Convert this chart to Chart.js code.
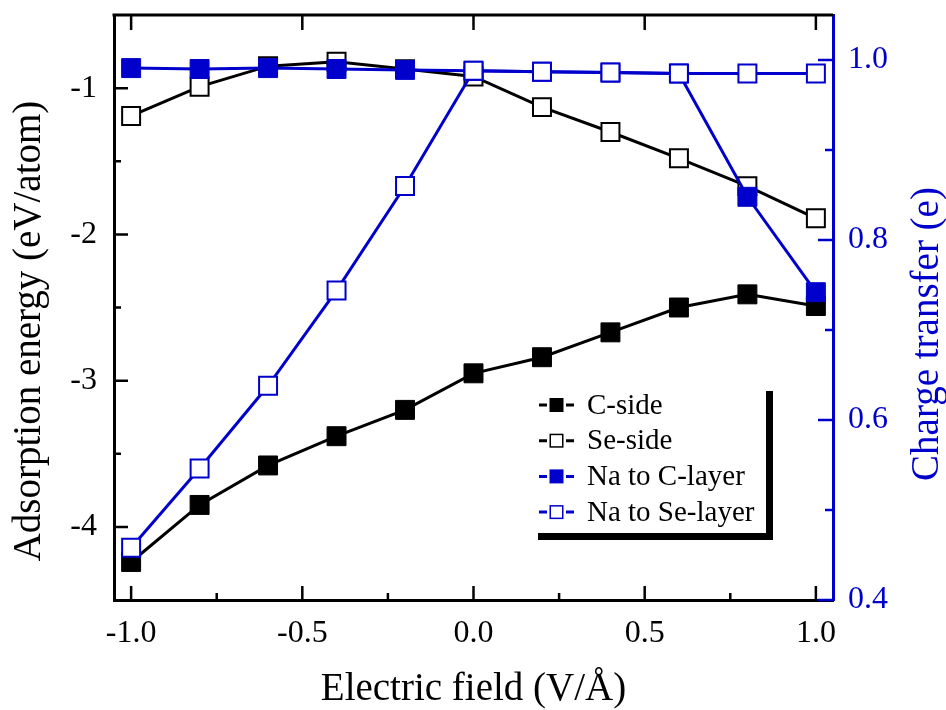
<!DOCTYPE html>
<html>
<head>
<meta charset="utf-8">
<script src="https://cdn.jsdelivr.net/npm/chart.js@4.4.0/dist/chart.umd.min.js"></script>
<style>
body { margin: 0; background: #fff; }
</style>
</head>
<body>
<canvas id="chart" width="946" height="710"></canvas>
<script>
const fieldValues = [-1.0, -0.8, -0.6, -0.4, -0.2, 0.0, 0.2, 0.4, 0.6, 0.8, 1.0];
const cSide  = [-4.24, -3.85, -3.58, -3.38, -3.20, -2.95, -2.84, -2.67, -2.50, -2.41, -2.49];
const seSide = [-1.19, -0.99, -0.85, -0.82, -0.87, -0.92, -1.13, -1.30, -1.48, -1.67, -1.89];
const naToC  = [0.991, 0.990, 0.991, 0.990, 0.989, 0.988, 0.987, 0.986, 0.985, 0.848, 0.742];
const naToSe = [0.458, 0.546, 0.638, 0.744, 0.860, 0.988, 0.987, 0.986, 0.985, 0.985, 0.985];

const fieldTicks  = [-1.0, -0.5, 0.0, 0.5, 1.0];
const fieldMinor  = [-0.75, -0.25, 0.25, 0.75];
const energyTicks = [-4, -3, -2, -1];
const energyMinor = [-3.5, -2.5, -1.5];
const chargeTicks = [0.4, 0.6, 0.8, 1.0];
const chargeMinor = [0.5, 0.7, 0.9];

const BLUE = '#0000CC';
const serif = '"Liberation Serif", "Times New Roman", serif';

function pairs(values) {
    return fieldValues.map((x, i) => ({ x: x, y: values[i] }));
}

function series(label, values, axis, color, filled, order) {
    return {
        label: label,
        data: pairs(values),
        yAxisID: axis,
        borderColor: color,
        borderWidth: 3,
        pointStyle: 'rect',
        pointRadius: filled ? 13.4 : 12.7,
        pointBorderWidth: filled ? 1 : 2,
        pointBorderColor: color,
        pointBackgroundColor: filled ? color : '#fff',
        pointHoverRadius: filled ? 13.4 : 12.7,
        filled: filled,
        order: order
    };
}

// tick marks pointing into the plot, top frame, y titles and the legend box
const framePlugin = {
    id: 'frame',
    afterDraw(chart) {
        const ctx = chart.ctx;
        const area = chart.chartArea;
        const x = chart.scales.x, e = chart.scales.energy, c = chart.scales.charge;
        ctx.save();
        ctx.lineWidth = 3;
        ctx.strokeStyle = '#000';
        ctx.beginPath();
        ctx.moveTo(area.left - 1.5, area.top);
        ctx.lineTo(area.right, area.top);
        ctx.stroke();

        ctx.lineWidth = 2.5;
        const mark = (x1, y1, x2, y2) => { ctx.moveTo(x1, y1); ctx.lineTo(x2, y2); };
        ctx.beginPath();
        fieldTicks.forEach(v => {
            const px = x.getPixelForValue(v);
            mark(px, area.bottom, px, area.bottom - 14);
            mark(px, area.top, px, area.top + 15);
        });
        fieldMinor.forEach(v => {
            const px = x.getPixelForValue(v);
            mark(px, area.bottom, px, area.bottom - 7);
        });
        energyTicks.forEach(v => {
            const py = e.getPixelForValue(v);
            mark(area.left, py, area.left + 14, py);
        });
        energyMinor.forEach(v => {
            const py = e.getPixelForValue(v);
            mark(area.left, py, area.left + 7, py);
        });
        ctx.stroke();

        ctx.strokeStyle = BLUE;
        ctx.beginPath();
        chargeTicks.forEach(v => {
            const py = c.getPixelForValue(v);
            mark(area.right, py, area.right - 15, py);
        });
        chargeMinor.forEach(v => {
            const py = c.getPixelForValue(v);
            mark(area.right, py, area.right - 8, py);
        });
        ctx.stroke();

        // axis titles
        ctx.font = '39px ' + serif;
        ctx.textAlign = 'center';
        ctx.textBaseline = 'alphabetic';
        ctx.fillStyle = '#000';
        ctx.save();
        ctx.translate(40, 331);
        ctx.rotate(-Math.PI / 2);
        ctx.fillText('Adsorption energy (eV/atom)', 0, 0);
        ctx.restore();
        ctx.fillStyle = BLUE;
        ctx.save();
        ctx.translate(938, 334);
        ctx.rotate(-Math.PI / 2);
        ctx.fillText('Charge transfer (e)', 0, 0);
        ctx.restore();

        // legend
        const top = 405, step = 35.7;
        ctx.font = '29px ' + serif;
        ctx.textAlign = 'left';
        ctx.textBaseline = 'middle';
        chart.data.datasets.forEach((ds, i) => {
            const y = top + i * step;
            ctx.strokeStyle = ds.borderColor;
            ctx.lineWidth = 3;
            ctx.beginPath();
            mark(539, y, 547, y);
            mark(566, y, 574, y);
            ctx.stroke();
            if (ds.filled) {
                ctx.fillStyle = ds.borderColor;
                ctx.fillRect(549.5, y - 7, 14, 14);
            } else {
                ctx.fillStyle = '#fff';
                ctx.fillRect(549.5, y - 7, 14, 14);
                ctx.lineWidth = 1.5;
                ctx.strokeRect(550.25, y - 6.25, 12.5, 12.5);
            }
            ctx.fillStyle = '#000';
            ctx.fillText(ds.label, 587, y + 1);
        });
        ctx.fillStyle = '#000';
        ctx.fillRect(766, 391, 7, 149);
        ctx.fillRect(538, 533, 235, 7);
        ctx.restore();
    }
};

new Chart(document.getElementById('chart'), {
    type: 'line',
    data: {
        datasets: [
            series('C-side', cSide, 'energy', '#000', true, 3),
            series('Se-side', seSide, 'energy', '#000', false, 2),
            series('Na to C-layer', naToC, 'charge', BLUE, true, 1),
            series('Na to Se-layer', naToSe, 'charge', BLUE, false, 0)
        ]
    },
    options: {
        responsive: false,
        animation: false,
        layout: { padding: { top: 15, left: 0, right: 0, bottom: 0 } },
        plugins: {
            legend: { display: false },
            tooltip: { enabled: false }
        },
        scales: {
            x: {
                type: 'linear',
                position: 'bottom',
                min: -1.05,
                max: 1.05,
                afterBuildTicks: s => { s.ticks = fieldTicks.map(v => ({ value: v })); },
                afterFit: s => { s.height = 110; s.paddingLeft = 0; s.paddingRight = 0; },
                grid: { drawOnChartArea: false, drawTicks: false },
                border: { color: '#000', width: 3 },
                ticks: {
                    padding: 14,
                    color: '#000',
                    autoSkip: false,
                    maxRotation: 0,
                    font: { family: serif, size: 32 },
                    callback: v => v.toFixed(1)
                },
                title: {
                    display: true,
                    text: 'Electric field (V/Å)',
                    color: '#000',
                    font: { family: serif, size: 39, lineHeight: 1 },
                    padding: { top: 0, bottom: 1 }
                }
            },
            energy: {
                type: 'linear',
                position: 'left',
                min: -4.5,
                max: -0.5,
                afterBuildTicks: s => { s.ticks = energyTicks.map(v => ({ value: v })); },
                afterFit: s => { s.width = 114; s.paddingTop = 0; s.paddingBottom = 0; },
                grid: { drawOnChartArea: false, drawTicks: false },
                border: { color: '#000', width: 3 },
                ticks: {
                    padding: 17,
                    color: '#000',
                    font: { family: serif, size: 32 },
                    callback: v => String(v)
                }
            },
            charge: {
                type: 'linear',
                position: 'right',
                min: 0.4,
                max: 1.05,
                afterBuildTicks: s => { s.ticks = chargeTicks.map(v => ({ value: v })); },
                afterFit: s => { s.width = 113; s.paddingTop = 0; s.paddingBottom = 0; },
                grid: { drawOnChartArea: false, drawTicks: false },
                border: { color: BLUE, width: 3 },
                ticks: {
                    padding: 15,
                    color: BLUE,
                    font: { family: serif, size: 32 },
                    callback: v => v.toFixed(1)
                }
            }
        }
    },
    plugins: [framePlugin]
});
</script>
</body>
</html>
